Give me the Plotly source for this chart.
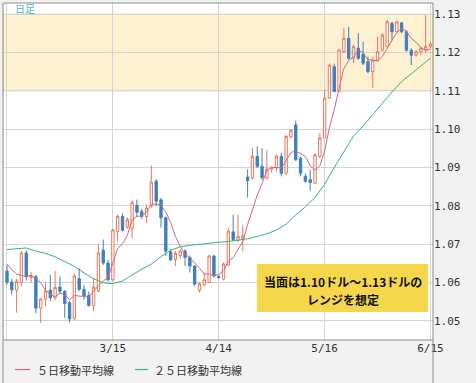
import plotly.graph_objects as go

# ---------------- data ----------------
dates = [
    "2017-02-13", "2017-02-14", "2017-02-15", "2017-02-16", "2017-02-17",
    "2017-02-20", "2017-02-21", "2017-02-22", "2017-02-23", "2017-02-24",
    "2017-02-27", "2017-02-28", "2017-03-01", "2017-03-02", "2017-03-03",
    "2017-03-06", "2017-03-07", "2017-03-08", "2017-03-09", "2017-03-10",
    "2017-03-13", "2017-03-14", "2017-03-15", "2017-03-16", "2017-03-17",
    "2017-03-20", "2017-03-21", "2017-03-22", "2017-03-23", "2017-03-24",
    "2017-03-27", "2017-03-28", "2017-03-29", "2017-03-30", "2017-03-31",
    "2017-04-03", "2017-04-04", "2017-04-05", "2017-04-06", "2017-04-07",
    "2017-04-10", "2017-04-11", "2017-04-12", "2017-04-13", "2017-04-14",
    "2017-04-17", "2017-04-18", "2017-04-19", "2017-04-20", "2017-04-21",
    "2017-04-24", "2017-04-25", "2017-04-26", "2017-04-27", "2017-04-28",
    "2017-05-01", "2017-05-02", "2017-05-03", "2017-05-04", "2017-05-05",
    "2017-05-08", "2017-05-09", "2017-05-10", "2017-05-11", "2017-05-12",
    "2017-05-15", "2017-05-16", "2017-05-17", "2017-05-18", "2017-05-19",
    "2017-05-22", "2017-05-23", "2017-05-24", "2017-05-25", "2017-05-26",
    "2017-05-29", "2017-05-30", "2017-05-31", "2017-06-01", "2017-06-02",
    "2017-06-05", "2017-06-06", "2017-06-07", "2017-06-08", "2017-06-09",
    "2017-06-12", "2017-06-13", "2017-06-14", "2017-06-15",
]

opens = [
    1.0630, 1.0601, 1.0580, 1.0600, 1.0677, 1.0613, 1.0615, 1.0533, 1.0557, 1.0580,
    1.0560, 1.0588, 1.0577, 1.0547, 1.0505, 1.0610, 1.0582, 1.0566, 1.0540, 1.0578,
    1.0684, 1.0651, 1.0607, 1.0733, 1.0772, 1.0745, 1.0740, 1.0801, 1.0785, 1.0772,
    1.0800, 1.0864, 1.0816, 1.0769, 1.0680, 1.0660, 1.0670, 1.0682, 1.0665, 1.0643,
    1.0580, 1.0594, 1.0600, 1.0669, 1.0616, 1.0609, 1.0645, 1.0732, 1.0710, 1.0715,
    1.0875, 1.0873, 1.0929, 1.0903, 1.0873, 1.0896, 1.0899, 1.0929, 1.0885, 1.0980,
    1.1011, 1.0924, 1.0877, 1.0868, 1.0859, 1.0929, 1.0977, 1.1081, 1.1163, 1.1098,
    1.1202, 1.1237, 1.1185, 1.1211, 1.1195, 1.1176, 1.1150, 1.1180, 1.1206, 1.1215,
    1.1276, 1.1254, 1.1277, 1.1254, 1.1206, 1.1193, 1.1202, 1.1207, 1.1215,
]
highs = [
    1.0645, 1.0610, 1.0610, 1.0682, 1.0684, 1.0628, 1.0620, 1.0560, 1.0600, 1.0620,
    1.0630, 1.0616, 1.0580, 1.0552, 1.0623, 1.0637, 1.0594, 1.0577, 1.0612, 1.0700,
    1.0712, 1.0659, 1.0740, 1.0777, 1.0780, 1.0770, 1.0815, 1.0816, 1.0792, 1.0803,
    1.0905, 1.0870, 1.0820, 1.0772, 1.0687, 1.0682, 1.0687, 1.0687, 1.0670, 1.0645,
    1.0600, 1.0626, 1.0672, 1.0672, 1.0618, 1.0652, 1.0743, 1.0777, 1.0777, 1.0751,
    1.0895, 1.0951, 1.0955, 1.0950, 1.0946, 1.0903, 1.0934, 1.0938, 1.0985, 1.1000,
    1.1022, 1.0928, 1.0885, 1.0894, 1.0937, 1.0990, 1.1102, 1.1171, 1.1171, 1.1210,
    1.1263, 1.1267, 1.1220, 1.1250, 1.1228, 1.1189, 1.1189, 1.1241, 1.1250, 1.1285,
    1.1280, 1.1282, 1.1280, 1.1258, 1.1211, 1.1206, 1.1215, 1.1297, 1.1226,
]
lows = [
    1.0594, 1.0568, 1.0521, 1.0590, 1.0605, 1.0600, 1.0520, 1.0495, 1.0538, 1.0551,
    1.0553, 1.0572, 1.0508, 1.0495, 1.0503, 1.0577, 1.0555, 1.0537, 1.0525, 1.0575,
    1.0646, 1.0603, 1.0603, 1.0707, 1.0733, 1.0740, 1.0715, 1.0770, 1.0766, 1.0755,
    1.0795, 1.0799, 1.0743, 1.0669, 1.0657, 1.0643, 1.0661, 1.0643, 1.0626, 1.0591,
    1.0574, 1.0590, 1.0600, 1.0613, 1.0610, 1.0605, 1.0643, 1.0708, 1.0705, 1.0682,
    1.0822, 1.0868, 1.0898, 1.0868, 1.0868, 1.0886, 1.0890, 1.0877, 1.0880, 1.0975,
    1.0917, 1.0877, 1.0860, 1.0838, 1.0859, 1.0925, 1.0977, 1.1078, 1.1098, 1.1098,
    1.1198, 1.1181, 1.1172, 1.1181, 1.1167, 1.1146, 1.1107, 1.1176, 1.1202, 1.1215,
    1.1232, 1.1254, 1.1250, 1.1202, 1.1167, 1.1189, 1.1193, 1.1198, 1.1211,
]
closes = [
    1.0601, 1.0581, 1.0603, 1.0677, 1.0615, 1.0619, 1.0533, 1.0557, 1.0578, 1.0560,
    1.0587, 1.0577, 1.0545, 1.0505, 1.0617, 1.0582, 1.0565, 1.0540, 1.0588, 1.0677,
    1.0651, 1.0607, 1.0737, 1.0772, 1.0736, 1.0764, 1.0808, 1.0783, 1.0772, 1.0794,
    1.0862, 1.0812, 1.0769, 1.0682, 1.0659, 1.0676, 1.0682, 1.0665, 1.0643, 1.0596,
    1.0597, 1.0607, 1.0669, 1.0617, 1.0613, 1.0648, 1.0734, 1.0712, 1.0720, 1.0721,
    1.0866, 1.0929, 1.0903, 1.0873, 1.0896, 1.0900, 1.0929, 1.0885, 1.0981, 1.0997,
    1.0920, 1.0885, 1.0864, 1.0861, 1.0933, 1.0977, 1.1081, 1.1167, 1.1098, 1.1206,
    1.1237, 1.1185, 1.1215, 1.1185, 1.1172, 1.1150, 1.1180, 1.1202, 1.1245, 1.1280,
    1.1254, 1.1280, 1.1254, 1.1206, 1.1193, 1.1202, 1.1211, 1.1215, 1.1222,
]

# 5-day moving average line
ma5 = [
    1.0648, 1.0633, 1.0622, 1.0618, 1.0615, 1.0619, 1.0609, 1.0600, 1.0580, 1.0569,
    1.0563, 1.0572, 1.0569, 1.0555, 1.0566, 1.0565, 1.0563, 1.0562, 1.0578, 1.0590,
    1.0604, 1.0613, 1.0652, 1.0689, 1.0701, 1.0723, 1.0763, 1.0773, 1.0773, 1.0784,
    1.0804, 1.0805, 1.0802, 1.0784, 1.0757, 1.0720, 1.0694, 1.0673, 1.0665, 1.0652,
    1.0637, 1.0622, 1.0622, 1.0617, 1.0621, 1.0631, 1.0656, 1.0665, 1.0685, 1.0707,
    1.0751, 1.0790, 1.0828, 1.0858, 1.0893, 1.0900, 1.0900, 1.0898, 1.0919, 1.0939,
    1.0943, 1.0935, 1.0929, 1.0905, 1.0893, 1.0904, 1.0943, 1.1004, 1.1051, 1.1106,
    1.1158, 1.1179, 1.1188, 1.1206, 1.1199, 1.1181, 1.1180, 1.1178, 1.1190, 1.1211,
    1.1232, 1.1252, 1.1263, 1.1255, 1.1237, 1.1227, 1.1213, 1.1205, 1.1209,
]

# 25-day moving average line, read every second trading day
ma25_dates = dates[::2]
ma25 = [
    1.0686, 1.0688, 1.0690, 1.0682, 1.0676, 1.0667, 1.0655, 1.0642, 1.0625, 1.0610,
    1.0599, 1.0597, 1.0604, 1.0620, 1.0635, 1.0648, 1.0668, 1.0684, 1.0693, 1.0697,
    1.0700, 1.0703, 1.0705, 1.0707, 1.0710, 1.0714, 1.0720, 1.0727, 1.0737, 1.0752,
    1.0776, 1.0797, 1.0822, 1.0856, 1.0900, 1.0940, 1.0982, 1.1008, 1.1038, 1.1068,
    1.1097, 1.1124, 1.1145, 1.1165, 1.1185,
]

tick_dates = ["2017-02-13", "2017-03-15", "2017-04-14", "2017-05-16", "2017-06-15"]
tick_labels = ["", "3/15", "4/14", "5/16", "6/15"]

range_low, range_high = 1.11, 1.13
legend_names = ["５日移動平均線", "２５日移動平均線"]
note_lines = ["当面は1.10ドル～1.13ドルの", "レンジを想定"]
title_text = "日足"

# ---------------- figure ----------------
W, H = 476, 383
ML, MR, MT, MB = 3, 43, 3, 43
PW, PH = W - ML - MR, H - MT - MB


def px_x(p):
    return (p - ML) / PW


def px_y(p):
    return (H - MB - p) / PH


MA5_COLOR = "#cc6a84"
MA25_COLOR = "#3db370"
MONO = "DejaVu Sans Mono"
JP = "Noto Sans CJK JP"

fig = go.Figure()
fig.add_trace(go.Candlestick(
    x=dates, open=opens, high=highs, low=lows, close=closes,
    increasing=dict(line=dict(color="#e8785a", width=1), fillcolor="#ffffff"),
    decreasing=dict(line=dict(color="#3f7fbf", width=1), fillcolor="#3f7fbf"),
    whiskerwidth=0, showlegend=False, hoverinfo="skip",
))
fig.add_trace(go.Scatter(x=ma25_dates, y=ma25, mode="lines",
                         line=dict(color=MA25_COLOR, width=1), showlegend=False))
fig.add_trace(go.Scatter(x=dates, y=ma5, mode="lines",
                         line=dict(color=MA5_COLOR, width=1), showlegend=False))

shapes = [
    # range band
    dict(type="rect", xref="paper", yref="y", x0=0, x1=1, y0=range_low, y1=range_high,
         fillcolor="rgba(252,220,140,0.40)", line=dict(color="#f0d9a8", width=1),
         layer="between"),
    # plot frame
    dict(type="rect", xref="paper", yref="paper", x0=0, x1=1, y0=0, y1=1,
         line=dict(color="#8c8c8c", width=1), fillcolor="rgba(0,0,0,0)", layer="above"),
    dict(type="line", xref="paper", yref="paper", x0=0, x1=0, y0=0, y1=px_y(H),
         line=dict(color="#8c8c8c", width=1)),
    dict(type="line", xref="paper", yref="paper", x0=1, x1=1, y0=0, y1=px_y(H),
         line=dict(color="#8c8c8c", width=1)),
    # note box
    dict(type="rect", xref="paper", yref="paper", x0=px_x(257), x1=px_x(428),
         y0=px_y(312), y1=px_y(264), fillcolor="#f6d64a", line=dict(width=0),
         layer="above"),
    # legend line samples
    dict(type="line", xref="paper", yref="paper", x0=px_x(15), x1=px_x(30),
         y0=px_y(369.5), y1=px_y(369.5), line=dict(color=MA5_COLOR, width=1.2)),
    dict(type="line", xref="paper", yref="paper", x0=px_x(135), x1=px_x(148),
         y0=px_y(369.5), y1=px_y(369.5), line=dict(color=MA25_COLOR, width=1.2)),
]

annotations = [
    dict(text=title_text, xref="paper", yref="paper", x=px_x(13), y=px_y(9),
         xanchor="left", yanchor="middle", showarrow=False,
         font=dict(family=JP, size=10, color="#4fb0dc")),
    dict(text=note_lines[0], xref="paper", yref="paper", x=px_x(342.5), y=px_y(281),
         xanchor="center", yanchor="middle", showarrow=False,
         font=dict(family=JP, size=12, color="#111111", weight="bold")),
    dict(text=note_lines[1], xref="paper", yref="paper", x=px_x(342.5), y=px_y(299),
         xanchor="center", yanchor="middle", showarrow=False,
         font=dict(family=JP, size=12, color="#111111", weight="bold")),
    dict(text=legend_names[0], xref="paper", yref="paper", x=px_x(35), y=px_y(369.5),
         xanchor="left", yanchor="middle", showarrow=False,
         font=dict(family=JP, size=11, color="#333333")),
    dict(text=legend_names[1], xref="paper", yref="paper", x=px_x(152), y=px_y(369.5),
         xanchor="left", yanchor="middle", showarrow=False,
         font=dict(family=JP, size=11, color="#333333")),
]

fig.update_layout(
    width=W, height=H,
    margin=dict(l=ML, r=MR, t=MT, b=MB, pad=0),
    paper_bgcolor="#f2f2f2", plot_bgcolor="#ffffff",
    shapes=shapes, annotations=annotations,
    showlegend=False,
    xaxis=dict(type="category", range=[-0.83, 88.52],
               tickmode="array", tickvals=tick_dates, ticktext=tick_labels,
               showgrid=True, gridcolor="#d4d4d4", gridwidth=1, ticks="",
               zeroline=False, showline=False, rangeslider=dict(visible=False),
               tickfont=dict(family=MONO, size=11, color="#333333")),
    yaxis=dict(side="right", range=[1.0450, 1.1329], tick0=1.05, dtick=0.01,
               tickformat=".2f", showgrid=True, gridcolor="#d4d4d4", gridwidth=1,
               ticks="", zeroline=False, showline=False,
               tickfont=dict(family=MONO, size=11, color="#333333")),
)

fig.write_html(
    "out.html",
    config={"displayModeBar": False, "staticPlot": True},
    post_script="document.body.style.margin='0';document.body.style.padding='0';"
                "document.documentElement.style.overflow='hidden';",
)
